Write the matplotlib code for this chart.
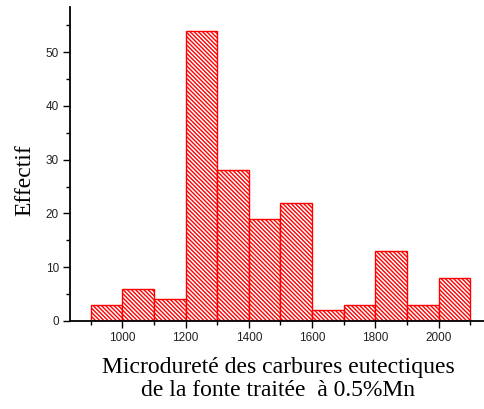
import matplotlib
matplotlib.use("Agg")
import matplotlib.pyplot as plt
from matplotlib.ticker import MultipleLocator

# Histogram of eutectic carbide microhardness (bin edges and counts)
bin_edges = [900, 1000, 1100, 1200, 1300, 1400, 1500, 1600, 1700, 1800, 1900, 2000, 2100]
counts = [3, 6, 4, 54, 28, 19, 22, 2, 3, 13, 3, 8]
x_ticks = [1000, 1200, 1400, 1600, 1800, 2000]
y_ticks = [0, 10, 20, 30, 40, 50]

plt.rcParams['hatch.color'] = 'red'
plt.rcParams['hatch.linewidth'] = 1.0

fig = plt.figure(figsize=(4.84, 4.09), dpi=100)
ax = fig.add_axes([0.1446, 0.2152, 0.86, 0.768])

lefts = bin_edges[:-1]
widths = [b - a for a, b in zip(bin_edges[:-1], bin_edges[1:])]
ax.bar(lefts, counts, width=widths, align='edge', facecolor='white',
       edgecolor='red', linewidth=1.0, hatch='\\' * 8)

ax.set_xlim(835, 2150)
ax.set_ylim(0, 58.4)
ax.set_xticks(x_ticks)
ax.set_yticks(y_ticks)
ax.xaxis.set_minor_locator(MultipleLocator(100))
ax.yaxis.set_minor_locator(MultipleLocator(5))

for side in ('top', 'right'):
    ax.spines[side].set_visible(False)
for side in ('left', 'bottom'):
    ax.spines[side].set_linewidth(1.3)

ax.tick_params(which='major', direction='out', length=5, width=1.0,
               labelsize=8.5, colors='black', pad=3)
ax.tick_params(which='minor', direction='out', length=3, width=1.0)
for lbl in ax.get_xticklabels() + ax.get_yticklabels():
    lbl.set_fontfamily('Liberation Sans')
    lbl.set_color('#222222')

ax.set_ylabel('Effectif', fontfamily='Liberation Serif', fontsize=17)
ax.yaxis.set_label_coords(-0.082, 0.449)
ax.set_xlabel('Microdureté des carbures eutectiques\nde la fonte traitée  à 0.5%Mn',
              fontfamily='Liberation Serif', fontsize=17, labelpad=9, linespacing=1.18)

fig.savefig('out.png', dpi=100)
